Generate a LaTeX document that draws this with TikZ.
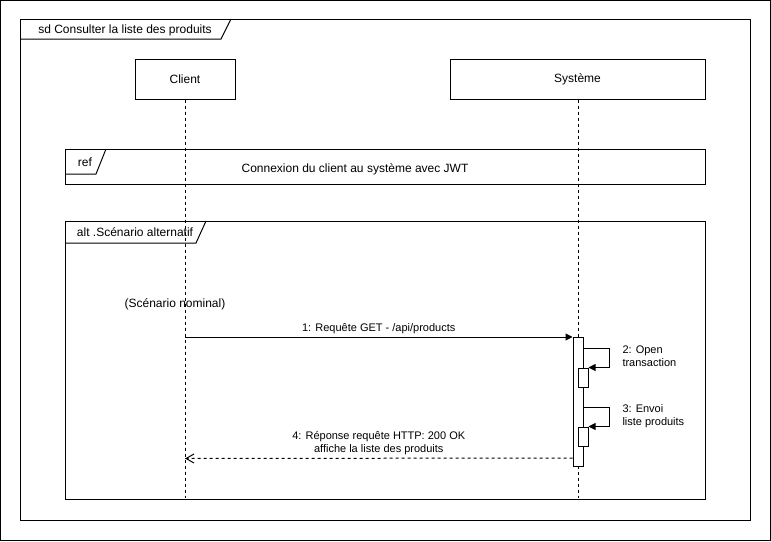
\documentclass[tikz,border=0pt]{standalone}
\usepackage{fontspec}
\setmainfont{Liberation Sans}
\usetikzlibrary{arrows.meta}
\tikzstyle{lifebox} = [rectangle, draw=black, minimum width=100pt, minimum height=40pt, inner sep=0pt, font=\fontsize{12}{14}\selectfont]
\tikzstyle{actbox} = [rectangle, draw=black, fill=white, minimum width=10pt, inner sep=0pt]
\tikzstyle{lifeline} = [dash pattern=on 3pt off 3pt]
\tikzstyle{framelabel} = [inner sep=0pt, font=\fontsize{12}{14}\selectfont]
\tikzstyle{msglabel} = [inner sep=0pt, font=\fontsize{11}{13}\selectfont]
\tikzstyle{msg} = [-{Triangle[length=7pt,width=7pt]}]
\tikzstyle{reply} = [dash pattern=on 3pt off 3pt, -{Straight Barb[length=8pt,width=9pt]}]

\begin{document}
\begin{tikzpicture}[x=1pt, y=-1pt, line width=1pt]
\useasboundingbox (0,0) rectangle (771,541);
\draw (0.5,0.5) rectangle (770.5,540.5);
% sd frame
\draw (20,19) rectangle (750,520);
\draw (20,39) -- (221,39) -- (231,19);
\node (sdlabel) [framelabel] at (125,30) {sd Consulter la liste des produits};
% lifelines
\node (client) [lifebox] at (185,79) {Client};
\node (systeme) [lifebox, minimum width=255pt] at (577.5,79) {Système};
\coordinate (clientend) at (185,498);
\coordinate (systemeend) at (578,498);
\draw [lifeline] (client) -- (clientend);
\draw [lifeline] (systeme.south -| systemeend) -- (systemeend);
% ref
\draw (65,149) rectangle (705,184);
\draw (65,174) -- (96,174) -- (106,149);
\node (reflabel) [framelabel] at (85,162) {ref};
\node (reftext) [framelabel] at (355,169) {Connexion du client au système avec JWT};
% alt
\draw (65,221) rectangle (705,499);
\draw (65,243) -- (196,243) -- (206,221);
\node (altlabel) [framelabel] at (135,232) {alt .Scénario alternatif};
\node (nominal) [framelabel] at (175,304.5) {(Scénario nominal)};
% activations
\node (act1) [actbox, minimum height=129pt] at (578,401.5) {};
\node (act2) [actbox, minimum height=19pt] at (583,377.5) {};
\node (act3) [actbox, minimum height=19pt] at (583,436.5) {};
% messages
\coordinate (c1) at (185,337);
\coordinate (c4) at (185,458.5);
\draw [msg] (c1) -- node[msglabel, above=3pt] {1: Requête GET - /api/products} (act1.west |- c1);
\draw [msg] (act1.east |- 0,348) -- ++(26,0) |- (act2.north east);
\node (lbl2) [msglabel, anchor=north west, align=left] at (622,345.5) {2: Open\\transaction};
\draw [msg] (act1.east |- 0,407) -- ++(26,0) |- (act3.north east);
\node (lbl3) [msglabel, anchor=north west, align=left] at (622,404.5) {3: Envoi\\liste produits};
\draw [reply] (act1.west |- 0,458) -- node[msglabel, above=2.5pt, align=center] {4: Réponse requête HTTP: 200 OK\\affiche la liste des produits} (c4);
\end{tikzpicture}
\end{document}
